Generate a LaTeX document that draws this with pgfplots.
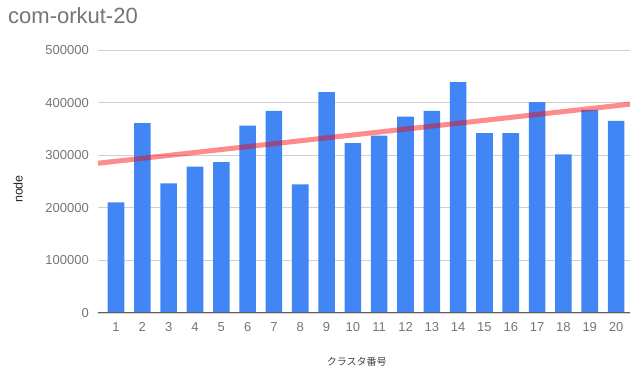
\documentclass[border=0pt]{standalone}
\usepackage{fontspec}
\setmainfont{Liberation Sans}
\newfontfamily\cjk{Noto Sans CJK JP}
\usepackage{pgfplots}
\pgfplotsset{compat=1.18}
\definecolor{barblue}{HTML}{4285F4}
\definecolor{txtgray}{HTML}{757575}
\definecolor{gridgray}{HTML}{D0D0D0}
\definecolor{basegray}{HTML}{616161}
\begin{document}
\begin{tikzpicture}
\begin{axis}[
  at={(98bp,63bp)}, anchor=south west,
  scale only axis, width=532bp, height=263bp,
  xmin=0.315, xmax=20.53, ymin=0, ymax=500000,
  xtick={1,...,20}, ytick={0,100000,200000,300000,400000,500000},
  scaled y ticks=false,
  /pgf/number format/assume math mode=true,
  yticklabel style={/pgf/number format/fixed, /pgf/number format/1000 sep={}, xshift=-9bp},
  xticklabel style={yshift=-9.5bp},
  axis line style={draw=none}, major tick length=0pt,
  ymajorgrids, grid style={gridgray, line width=0.9bp},
  tick label style={font=\fontsize{13bp}{15bp}\selectfont, text=txtgray, inner sep=0pt},
]
\addplot[ybar, bar width=0.63, bar shift=0pt, fill=barblue, draw=none] coordinates {
(1,210400) (2,360900) (3,246500) (4,278200) (5,286600)
(6,356300) (7,384300) (8,244700) (9,420000) (10,322800)
(11,337300) (12,373500) (13,384300) (14,439000) (15,341800)
(16,341800) (17,400900) (18,301800) (19,386200) (20,365300)
};
\addplot[red, opacity=0.45, line width=5bp] coordinates {(0.315,284700) (20.53,397000)};
\draw[basegray, line width=1.5bp] (rel axis cs:0,0) -- (rel axis cs:1,0);
\end{axis}
\node[anchor=base west, text=txtgray, font=\fontsize{22bp}{26bp}\selectfont, inner sep=0pt] at (8bp,352.5bp) {com-orkut-20};
\node[rotate=90, anchor=base, text=black!85, font=\fontsize{12.5bp}{15bp}\selectfont, inner sep=0pt] at (22.7bp,187bp) {node};
\node[anchor=center, text=black!75, font=\cjk\fontsize{10bp}{12bp}\selectfont, inner sep=0pt] at (356.7bp,14bp) {クラスタ番号};
\pgfresetboundingbox
\path (0,0) rectangle (630bp,376bp);
\end{tikzpicture}
\end{document}
